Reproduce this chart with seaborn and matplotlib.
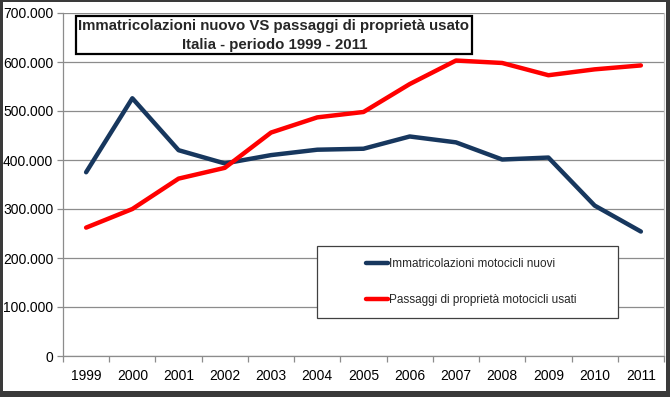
import matplotlib
matplotlib.use("Agg")
import matplotlib.pyplot as plt
import seaborn as sns
import pandas as pd
from matplotlib.patches import Rectangle
from matplotlib.ticker import FuncFormatter, FixedLocator
from matplotlib import font_manager

years = ["1999", "2000", "2001", "2002", "2003", "2004", "2005",
         "2006", "2007", "2008", "2009", "2010", "2011"]
nuovi = [375000, 526000, 420000, 393000, 410000, 421000, 423000,
         448000, 436000, 401000, 405000, 307000, 254000]
usati = [262000, 300000, 362000, 384000, 456000, 487000, 498000,
         555000, 603000, 598000, 573000, 585000, 593000]
series_names = ["Immatricolazioni motocicli nuovi",
                "Passaggi di proprietà motocicli usati"]
title_lines = ["Immatricolazioni nuovo VS passaggi di proprietà usato",
               "Italia - periodo 1999 - 2011"]

df = pd.DataFrame({
    "anno": years * 2,
    "valore": nuovi + usati,
    "serie": [series_names[0]] * len(years) + [series_names[1]] * len(years),
})

sns.set_theme(style="white")
plt.rcParams["font.family"] = ["Liberation Sans", "DejaVu Sans"]

installed = {f.name for f in font_manager.fontManager.ttflist}
narrow = "Liberation Sans Narrow" if "Liberation Sans Narrow" in installed else "Liberation Sans"

W, H = 670, 397
fig = plt.figure(figsize=(W / 100, H / 100), dpi=100)
fig.patch.set_facecolor("white")

def fx(px):
    return px / W

def fy(py):
    return 1 - py / H

ax = fig.add_axes([fx(63), fy(356), fx(664) - fx(63), fy(13) - fy(356)])
ax.set_facecolor("white")

palette = {series_names[0]: "#17375E", series_names[1]: "#FF0000"}
sns.lineplot(data=df, x="anno", y="valore", hue="serie", palette=palette,
             linewidth=3.2, ax=ax, sort=False, legend=False,
             solid_capstyle="round", solid_joinstyle="round")

ax.set_xlim(-0.5, len(years) - 0.5)
ax.set_ylim(0, 700000)
ax.set_yticks(range(0, 700001, 100000))
ax.yaxis.set_major_formatter(FuncFormatter(
    lambda v, p: "0" if v == 0 else f"{int(v):,}".replace(",", ".")))
ax.set_xticks(range(len(years)))
ax.set_xticklabels(years)
ax.xaxis.set_minor_locator(FixedLocator([i - 0.5 for i in range(len(years) + 1)]))
ax.set_xlabel("")
ax.set_ylabel("")

ax.grid(axis="y", color="#8C8C8C", linewidth=0.9)
ax.set_axisbelow(True)
ax.spines["top"].set_visible(False)
ax.spines["right"].set_color("#C8C8C8")
ax.spines["right"].set_linewidth(0.9)
for s in ["left", "bottom"]:
    ax.spines[s].set_color("#8C8C8C")
    ax.spines[s].set_linewidth(0.9)

ax.tick_params(axis="x", which="major", length=0, pad=9, labelsize=10,
               colors="black")
ax.tick_params(axis="x", which="minor", length=4, width=0.9, color="#8C8C8C",
               direction="out", bottom=True)
ax.tick_params(axis="y", which="major", length=4, width=0.9, color="#8C8C8C",
               direction="out", left=True, pad=3, labelsize=10,
               labelcolor="black")

renderer = fig.canvas.get_renderer()

def fit(t, target_px):
    w = t.get_window_extent(renderer=renderer).width
    t.set_fontsize(t.get_fontsize() * target_px / w)

# Title box
fig.patches.append(Rectangle((fx(76), fy(54)), fx(472) - fx(76), fy(16) - fy(54),
                             transform=fig.transFigure, facecolor="white",
                             edgecolor="black", linewidth=1.6, zorder=5))
t1 = fig.text(fx(274), fy(26), title_lines[0], ha="center", va="center",
              fontsize=12, fontweight="bold", zorder=6, family=[narrow, "DejaVu Sans"])
t2 = fig.text(fx(275), fy(45), title_lines[1], ha="center", va="center",
              fontsize=12, fontweight="bold", zorder=6, family=[narrow, "DejaVu Sans"])
fit(t1, 390)
t2.set_fontsize(t1.get_fontsize())

# Legend box
fig.patches.append(Rectangle((fx(317), fy(318)), fx(618) - fx(317), fy(246) - fy(318),
                             transform=fig.transFigure, facecolor="white",
                             edgecolor="#404040", linewidth=0.9, zorder=5))
handles = [plt.Line2D([], [], color=palette[n], linewidth=3.2,
                      solid_capstyle="round") for n in series_names]
leg = fig.legend(handles, series_names, loc="center left",
                 bbox_to_anchor=(fx(366), fy(282)), frameon=False,
                 prop={"family": [narrow, "DejaVu Sans"], "size": 8.5},
                 handlelength=1.85, handletextpad=0.1,
                 labelspacing=2.05, borderpad=0, borderaxespad=0)
leg.set_zorder(6)

# Outer dark frame
dark = "#3A3A3A"
fig.patches.append(Rectangle((0, 0), fx(3), 1, transform=fig.transFigure,
                             facecolor=dark, edgecolor="none", zorder=10))
fig.patches.append(Rectangle((0, fy(2)), 1, 1 - fy(2), transform=fig.transFigure,
                             facecolor=dark, edgecolor="none", zorder=10))
fig.patches.append(Rectangle((fx(666), 0), 1 - fx(666), 1, transform=fig.transFigure,
                             facecolor=dark, edgecolor="none", zorder=10))
fig.patches.append(Rectangle((0, 0), 1, fy(391), transform=fig.transFigure,
                             facecolor=dark, edgecolor="none", zorder=10))

fig.savefig("out.png", dpi=100, facecolor="white")
